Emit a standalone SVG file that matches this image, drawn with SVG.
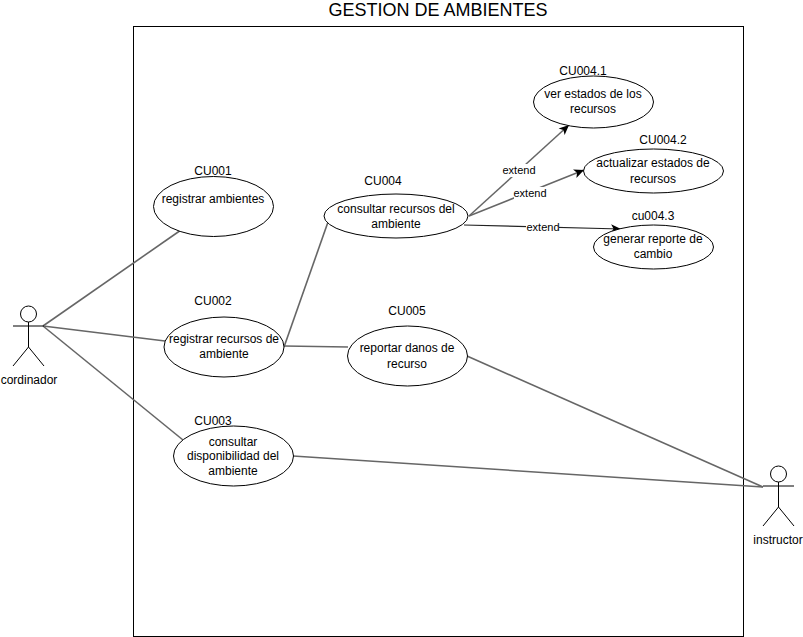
<svg xmlns="http://www.w3.org/2000/svg" width="803" height="637" viewBox="0 0 803 637">
<defs>
<style>
text{font-family:"Liberation Sans",Arial,sans-serif;font-size:12px;text-anchor:middle;fill:#000}
.t{font-size:18px}
.n{font-size:11px}
.e{fill:#fff;stroke:#000;stroke-width:1}
.s{fill:none;stroke:#000;stroke-width:1}
.c{fill:none;stroke:#666;stroke-width:1.6}
.x{fill:none;stroke:#666;stroke-width:1.5;marker-end:url(#a)}
.d{stroke:#222;stroke-width:1.2}
.l{fill:#fff;stroke:none}
</style>
<marker id="a" markerUnits="userSpaceOnUse" markerWidth="14" markerHeight="12" refX="11" refY="6" orient="auto"><path d="M1 1.500L11 6L1 10.500L3.500 6Z" fill="#000"/></marker>
</defs>
<rect width="803" height="637" fill="#fff"/>
<text class="t" x="438" y="16">GESTION DE AMBIENTES</text>
<rect id="system" class="s" x="133.500" y="26.500" width="610" height="610"/>
<g id="connectors">
<path class="c" d="M43 326L181 230"/>
<path class="c" d="M43 326L165 341"/>
<path class="c" d="M43 326L183 440"/>
<path class="c" d="M284 347L328 222"/>
<path class="c" d="M284 346L348 347"/>
<path class="c" d="M467 356L763 487"/>
<path class="c" d="M293 456L763 487"/>
<path class="x" d="M469 216L569 125"/>
<path class="x" d="M469 216L584 170"/>
<path class="x d" d="M464 225L621 229"/>
<rect class="l" x="503" y="164" width="33" height="13"/><text class="n" x="519" y="174">extend</text>
<rect class="l" x="514" y="187" width="33" height="13"/><text class="n" x="530" y="197">extend</text>
<rect class="l" x="526" y="221" width="33" height="13"/><text class="n" x="543" y="231">extend</text>
</g>
<g id="cu001"><ellipse class="e" cx="213.500" cy="206.500" rx="60" ry="30"/><text x="213" y="203">registrar ambientes</text><text x="213" y="175">CU001</text></g>
<g id="cu002"><ellipse class="e" cx="224" cy="347" rx="60" ry="30"/><text x="224" y="343">registrar recursos de</text><text x="224" y="358">ambiente</text><text x="213" y="305">CU002</text></g>
<g id="cu003"><ellipse class="e" cx="233.500" cy="456" rx="60" ry="30"/><text x="233" y="446">consultar</text><text x="233" y="460">disponibilidad del</text><text x="233" y="475">ambiente</text><text x="213" y="425">CU003</text></g>
<g id="cu004"><ellipse class="e" cx="396" cy="216" rx="72" ry="22"/><text x="396" y="213">consultar recursos del</text><text x="396" y="228">ambiente</text><text x="383" y="185">CU004</text></g>
<g id="cu005"><ellipse class="e" cx="407.500" cy="356" rx="60" ry="30"/><text x="407" y="352">reportar danos de</text><text x="407" y="368">recurso</text><text x="407" y="315">CU005</text></g>
<g id="cu0041"><ellipse class="e" cx="593.500" cy="102" rx="60" ry="26"/><text x="593" y="98">ver estados de los</text><text x="593" y="113">recursos</text><text x="583" y="75">CU004.1</text></g>
<g id="cu0042"><ellipse class="e" cx="653.500" cy="171" rx="70" ry="22"/><text x="653" y="167">actualizar estados de</text><text x="653" y="183">recursos</text><text x="663" y="144">CU004.2</text></g>
<g id="cu0043"><ellipse class="e" cx="653.500" cy="247" rx="60" ry="22"/><text x="653" y="243">generar reporte de</text><text x="653" y="258">cambio</text><text x="653" y="220">cu004.3</text></g>
<g id="cordinador"><circle class="s" cx="28.500" cy="314" r="8"/><path class="s" d="M28.500 322V347M13 326H44M28.500 347L13 366M28.500 347L44 366"/><text x="29" y="384">cordinador</text></g>
<g id="instructor"><circle class="s" cx="778.500" cy="474" r="8"/><path class="s" d="M778.500 482V507M763 486H794M778.500 507L763 526M778.500 507L794 526"/><text x="778" y="544">instructor</text></g>
</svg>
